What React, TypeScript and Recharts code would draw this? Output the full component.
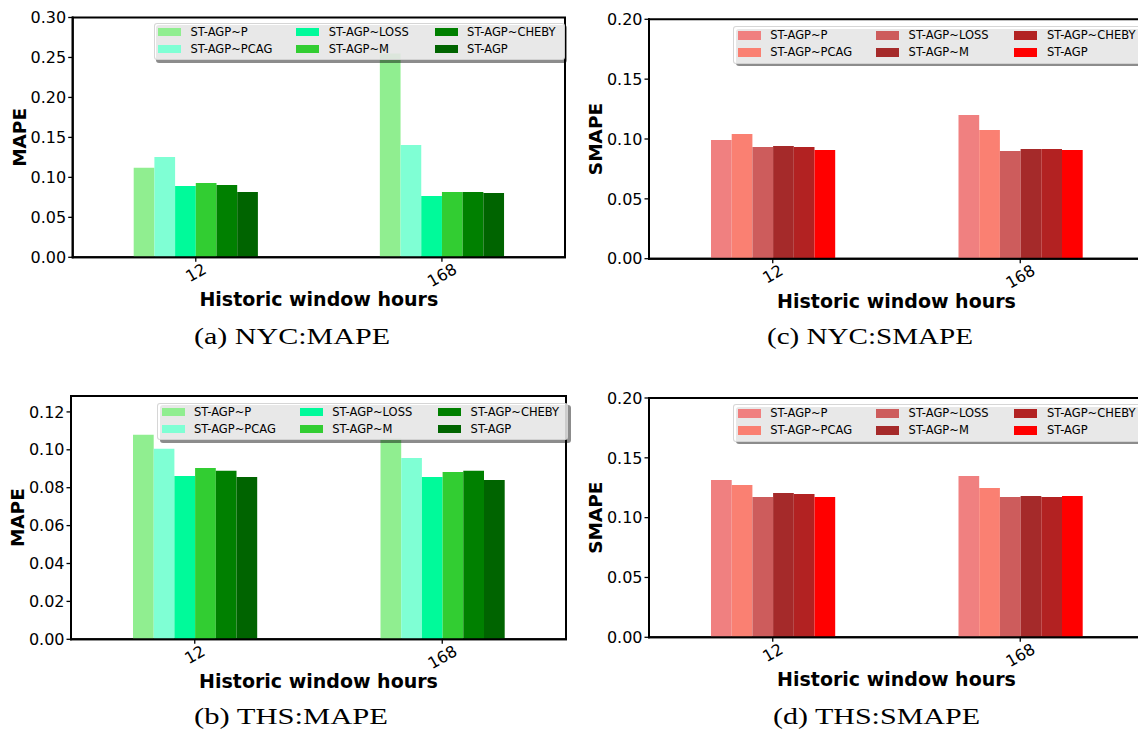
import React from 'react';
import { BarChart, Bar, XAxis, YAxis, Legend, ReferenceArea } from 'recharts';

const FONT = '"DejaVu Sans", sans-serif';
const SERIF = '"Liberation Serif", serif';

const categories = ['12', '168'];
const seriesNames = ['ST-AGP~P', 'ST-AGP~PCAG', 'ST-AGP~LOSS', 'ST-AGP~M', 'ST-AGP~CHEBY', 'ST-AGP'];
const greenColors = ['#90EE90', '#7FFFD4', '#00FA9A', '#32CD32', '#008000', '#006400'];
const redColors = ['#F08080', '#FA8072', '#CD5C5C', '#A52A2A', '#B22222', '#FF0000'];

// (a) NYC: MAPE
const nycMapeP = [0.112, 0.255];
const nycMapePCAG = [0.1254, 0.1404];
const nycMapeLOSS = [0.0892, 0.0767];
const nycMapeM = [0.0929, 0.0817];
const nycMapeCHEBY = [0.0904, 0.0817];
const nycMapeAGP = [0.0817, 0.0804];

// (b) THS: MAPE
const thsMapeP = [0.1079, 0.106];
const thsMapePCAG = [0.1005, 0.0957];
const thsMapeLOSS = [0.0862, 0.0857];
const thsMapeM = [0.0904, 0.0883];
const thsMapeCHEBY = [0.0889, 0.0889];
const thsMapeAGP = [0.0857, 0.0841];

// (c) NYC: SMAPE
const nycSmapeP = [0.0992, 0.1201];
const nycSmapePCAG = [0.1042, 0.1075];
const nycSmapeLOSS = [0.0933, 0.09];
const nycSmapeM = [0.0942, 0.0916];
const nycSmapeCHEBY = [0.0933, 0.0916];
const nycSmapeAGP = [0.0908, 0.0908];

// (d) THS: SMAPE
const thsSmapeP = [0.1315, 0.1348];
const thsSmapePCAG = [0.1273, 0.1248];
const thsSmapeLOSS = [0.1173, 0.1173];
const thsSmapeM = [0.1206, 0.1181];
const thsSmapeCHEBY = [0.1198, 0.1173];
const thsSmapeAGP = [0.1173, 0.1181];

const mapeTicksNYC = [0, 0.05, 0.1, 0.15, 0.2, 0.25, 0.3];
const mapeTicksTHS = [0, 0.02, 0.04, 0.06, 0.08, 0.1, 0.12];
const smapeTicks = [0, 0.05, 0.1, 0.15, 0.2];

const xLabelText = 'Historic window hours';

function buildRows(series: number[][]) {
  return categories.map((c, i) => {
    const row: any = { hours: c };
    series.forEach((s, j) => {
      row['s' + j] = s[i];
    });
    return row;
  });
}

const TICK_FS = 16;

const XTick = (props: any) => {
  const { x, y, payload } = props;
  const label = String(payload.value);
  const w = label.length * 0.636 * TICK_FS;
  const cy = y + 0.5 + (w * 0.5 + 0.729 * TICK_FS * 0.866) / 2;
  return (
    <text
      x={x}
      y={cy}
      dy="0.36em"
      textAnchor="middle"
      fontSize={TICK_FS}
      fontFamily={FONT}
      fill="#000"
      transform={`rotate(-30, ${x}, ${cy})`}
    >
      {label}
    </text>
  );
};

const XLabel = (props: any) => {
  const vb = props.viewBox || {};
  return (
    <text
      x={vb.x + vb.width / 2}
      y={vb.y + 42}
      dy="0.36em"
      textAnchor="middle"
      fontSize={19}
      fontWeight="bold"
      fontFamily={FONT}
      fill="#000"
    >
      {xLabelText}
    </text>
  );
};

const makeYLabel = (text: string) => (props: any) => {
  const vb = props.viewBox || {};
  const cx = vb.x + vb.width - 53.5;
  const cy = vb.y + vb.height / 2;
  return (
    <text
      x={cx}
      y={cy}
      dy="0.36em"
      textAnchor="middle"
      fontSize={18.5}
      fontWeight="bold"
      fontFamily={FONT}
      fill="#000"
      transform={`rotate(-90, ${cx}, ${cy})`}
    >
      {text}
    </text>
  );
};

const LEG_W = 411;
const LEG_H = 37.5;

const LegendBox = (props: any) => {
  const payload: any[] = props.payload || [];
  const ordered = seriesNames
    .map((n) => payload.find((p: any) => p.value === n))
    .filter(Boolean);
  return (
    <div style={{ position: 'relative', width: LEG_W, height: LEG_H, fontFamily: FONT }}>
      <div
        style={{
          position: 'absolute',
          left: 2.5,
          top: 2.5,
          width: LEG_W,
          height: LEG_H,
          background: 'rgba(0,0,0,0.45)',
          borderRadius: 3,
        }}
      />
      <div
        style={{
          position: 'absolute',
          left: 0,
          top: 0,
          width: LEG_W - 2,
          height: LEG_H - 2,
          background: 'rgba(255,255,255,0.8)',
          border: '1px solid rgba(204,204,204,0.8)',
          borderRadius: 3,
        }}
      />
      {ordered.map((it: any, i: number) => {
        const col = Math.floor(i / 2);
        const row = i % 2;
        const cy = 9.5 + row * 17;
        return (
          <React.Fragment key={it.value}>
            <div
              style={{
                position: 'absolute',
                left: 4.5 + col * 138.3,
                top: cy - 4.2,
                width: 23,
                height: 8.5,
                background: it.color,
              }}
            />
            <div
              style={{
                position: 'absolute',
                left: 37 + col * 138.3,
                top: cy - 7.5,
                height: 15,
                lineHeight: '15px',
                fontSize: 11.5,
                color: '#000',
                whiteSpace: 'nowrap',
              }}
            >
              {it.value}
            </div>
          </React.Fragment>
        );
      })}
    </div>
  );
};

const spine = { stroke: '#000', strokeWidth: 2, strokeLinecap: 'square' as const };
const tickLineStyle = { stroke: '#000', strokeWidth: 1.3 };

const Panel = (cfg: any) => {
  const rows = buildRows(cfg.series);
  const yW = cfg.plotLeft - cfg.left;
  const xH = cfg.top + cfg.height - cfg.plotBottom;
  const margin = {
    top: cfg.plotTop - cfg.top,
    right: cfg.left + cfg.width - cfg.plotRight,
    bottom: 0,
    left: 0,
  };
  return (
    <div style={{ position: 'absolute', left: cfg.left, top: cfg.top }}>
      <BarChart width={cfg.width} height={cfg.height} data={rows} margin={margin} barGap={0} barSize={20.7}>
        <XAxis
          dataKey="hours"
          type="category"
          interval={0}
          height={xH}
          axisLine={spine}
          tickLine={tickLineStyle}
          tickSize={4.5}
          tickMargin={0}
          tick={(p: any) => <XTick {...p} />}
          label={<XLabel />}
        />
        <YAxis
          type="number"
          domain={cfg.domain}
          ticks={cfg.ticks}
          width={yW}
          allowDataOverflow
          axisLine={spine}
          tickLine={tickLineStyle}
          tickSize={4.5}
          tickMargin={2}
          tickFormatter={(v: number) => v.toFixed(2)}
          tick={{ fill: '#000', fontSize: TICK_FS, fontFamily: FONT }}
          label={makeYLabel(cfg.yLabel)}
        />
        <Legend
          layout="horizontal"
          verticalAlign="middle"
          align="center"
          content={(p: any) => <LegendBox {...p} />}
          wrapperStyle={{
            left: cfg.legendLeft - cfg.left,
            top: cfg.legendTop - cfg.top,
            right: 'auto',
            bottom: 'auto',
            width: LEG_W + 4,
            height: LEG_H + 4,
            margin: 0,
            padding: 0,
          }}
        />
        {seriesNames.map((n, j) => (
          <Bar key={n} dataKey={'s' + j} name={n} fill={cfg.colors[j]} isAnimationActive={false} />
        ))}
        <ReferenceArea
          y1={cfg.domain[0]}
          y2={cfg.domain[1]}
          fill="none"
          fillOpacity={0}
          stroke="#000"
          strokeWidth={2}
          strokeOpacity={1}
          ifOverflow="visible"
        />
      </BarChart>
    </div>
  );
};

const panels = [
  {
    key: 'a',
    left: 0, top: 0, width: 570, height: 330,
    plotLeft: 72.7, plotRight: 565, plotTop: 17.5, plotBottom: 257.3,
    domain: [0, 0.3], ticks: mapeTicksNYC, yLabel: 'MAPE', colors: greenColors,
    series: [nycMapeP, nycMapePCAG, nycMapeLOSS, nycMapeM, nycMapeCHEBY, nycMapeAGP],
    legendLeft: 153.5, legendTop: 22.7,
  },
  {
    key: 'b',
    left: 0, top: 385, width: 570, height: 320,
    plotLeft: 71, plotRight: 566, plotTop: 396, plotBottom: 639.3,
    domain: [0, 0.1284], ticks: mapeTicksTHS, yLabel: 'MAPE', colors: greenColors,
    series: [thsMapeP, thsMapePCAG, thsMapeLOSS, thsMapeM, thsMapeCHEBY, thsMapeAGP],
    legendLeft: 157, legendTop: 402.7,
  },
  {
    key: 'c',
    left: 570, top: 0, width: 580, height: 330,
    plotLeft: 649, plotRight: 1144, plotTop: 19.3, plotBottom: 258.7,
    domain: [0, 0.2], ticks: smapeTicks, yLabel: 'SMAPE', colors: redColors,
    series: [nycSmapeP, nycSmapePCAG, nycSmapeLOSS, nycSmapeM, nycSmapeCHEBY, nycSmapeAGP],
    legendLeft: 733.3, legendTop: 26,
  },
  {
    key: 'd',
    left: 570, top: 385, width: 580, height: 320,
    plotLeft: 649, plotRight: 1144, plotTop: 398, plotBottom: 637.3,
    domain: [0, 0.2], ticks: smapeTicks, yLabel: 'SMAPE', colors: redColors,
    series: [thsSmapeP, thsSmapePCAG, thsSmapeLOSS, thsSmapeM, thsSmapeCHEBY, thsSmapeAGP],
    legendLeft: 733.3, legendTop: 404,
  },
];

const captions = [
  { text: '(a) NYC:MAPE', x: 194, y: 344, w: 196 },
  { text: '(c) NYC:SMAPE', x: 767, y: 344, w: 206 },
  { text: '(b) THS:MAPE', x: 194, y: 724, w: 194 },
  { text: '(d) THS:SMAPE', x: 773, y: 724, w: 207 },
];

export default function App() {
  return (
    <div
      style={{
        position: 'absolute',
        left: 0,
        top: 0,
        width: 1138,
        height: 730,
        overflow: 'hidden',
        background: '#fff',
      }}
    >
      {panels.map((p) => (
        <Panel key={p.key} {...p} />
      ))}
      <svg
        width={1138}
        height={730}
        style={{ position: 'absolute', left: 0, top: 0, pointerEvents: 'none' }}
      >
        {captions.map((c) => (
          <text
            key={c.text}
            x={c.x}
            y={c.y}
            fontFamily={SERIF}
            fontSize={24}
            fill="#000"
            textLength={c.w}
            lengthAdjust="spacingAndGlyphs"
          >
            {c.text}
          </text>
        ))}
      </svg>
    </div>
  );
}
